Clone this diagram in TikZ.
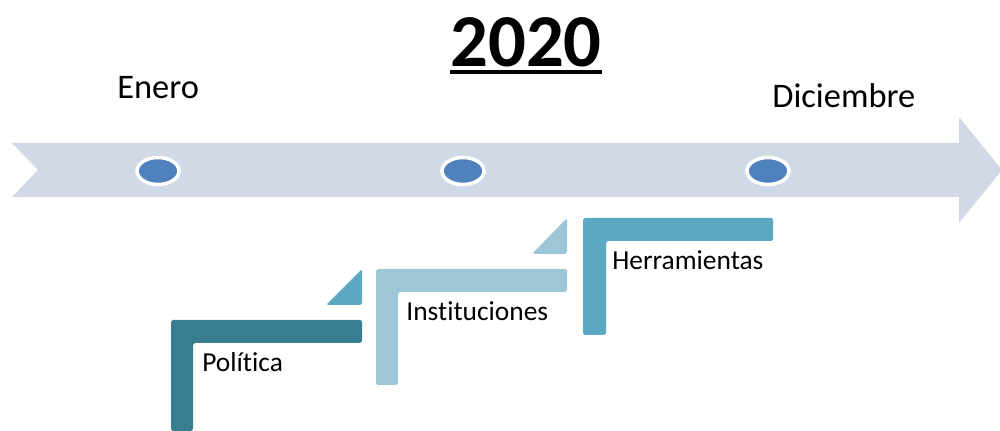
\documentclass[tikz,border=0pt]{standalone}
\usepackage{fontspec}
\setmainfont[Ligatures=NoCommon]{Carlito}
\usetikzlibrary{shapes.geometric}
\definecolor{banda}{HTML}{D1D9E7}
\definecolor{punto}{HTML}{4F81BD}
\definecolor{pasouno}{HTML}{387E90}
\definecolor{pasodos}{HTML}{9DC7D7}
\definecolor{pasotres}{HTML}{5BA9C2}
\newlength{\px}
\setlength{\px}{0.02cm}
\tikzset{
        mes/.style={anchor=base west, inner sep=0pt, font=\fontsize{19.6}{23}\selectfont},
        paso/.style={anchor=base west, inner sep=0pt, font=\fontsize{15.6}{19}\selectfont},
        hito/.style={ellipse, draw=white, line width=2pt, fill=punto, minimum width=42\px, minimum height=27\px, inner sep=0pt},
        escalon/.style={rounded corners=1pt}
}

\begin{document}
\begin{tikzpicture}[x=0.02cm, y=-0.02cm]
        \useasboundingbox (0,0) rectangle (1000,431);
        \fill[banda] (12,143) -- (959,143) -- (959,117) -- (1002,170) -- (959,223) -- (959,197) -- (12,197) -- (38,170) -- cycle;
        \node[hito] (h1) at (158,171) {};
        \node[hito] (h2) at (463,171) {};
        \node[hito] (h3) at (768,171) {};

        \node[anchor=base, inner sep=0pt, font=\fontsize{42.5}{48}\selectfont\bfseries] (anio) at (526,67) {2020};
        \fill ([yshift=-3.5\px]anio.base west) rectangle ([yshift=-7.5\px]anio.base east);
        \node[mes] (enero) at (117,99) {Enero};
        \node[mes] (dic) at (772,108) {Diciembre};

        \fill[pasouno, escalon] (171,431) -- (171,320) -- (362,320) -- (362,343) -- (193,343) -- (193,431) -- cycle;
        \fill[pasotres, escalon] (362,269) -- (362,305) -- (326,305) -- cycle;
        \fill[pasodos, escalon] (376,385) -- (376,269) -- (567,269) -- (567,292) -- (398,292) -- (398,385) -- cycle;
        \fill[pasodos, escalon] (567,218) -- (567,254) -- (532,254) -- cycle;
        \fill[pasotres, escalon] (583,335) -- (583,218) -- (773,218) -- (773,241) -- (606,241) -- (606,335) -- cycle;

        \node[paso] (pol) at (202,372) {Política};
        \node[paso] (inst) at (406,321) {Instituciones};
        \node[paso] (herr) at (612,270) {Herramientas};
\end{tikzpicture}
\end{document}
